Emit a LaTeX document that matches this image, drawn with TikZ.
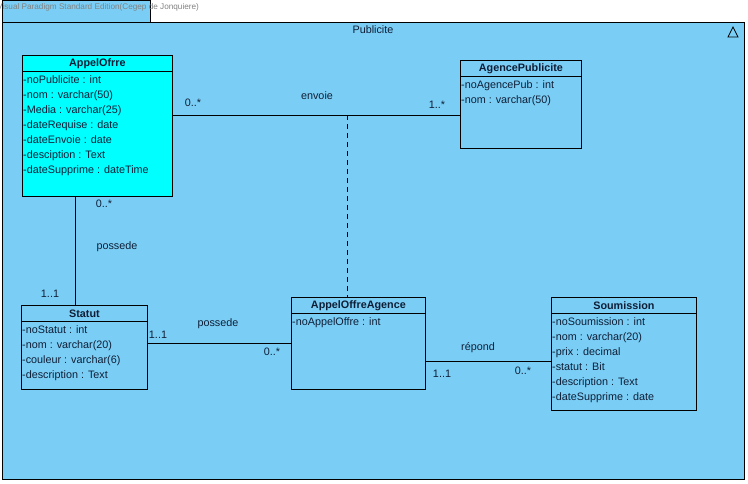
\documentclass[tikz,border=0pt]{standalone}
\usepackage{fontspec}
\setmainfont{Liberation Sans}
\usetikzlibrary{positioning}
\definecolor{pkgBlue}{RGB}{122,206,245}
\definecolor{classCyan}{RGB}{0,255,255}
\definecolor{textNavy}{RGB}{15,30,55}
\definecolor{wmGray}{RGB}{130,130,130}
\begin{document}
\begin{tikzpicture}[x=1pt, y=-1pt,
    classStyle/.style={draw, line width=0.8pt, anchor=north west, inner sep=0pt},
    headStyle/.style={draw, line width=0.8pt, anchor=north, minimum height=16pt, inner sep=0pt, font=\fontsize{10.8}{12}\selectfont\bfseries, text=textNavy},
    attrStyle/.style={anchor=north west, inner sep=1pt, yshift=-2.5pt, align=left, font=\fontsize{10.8}{15}\selectfont, text=textNavy},
    labelStyle/.style={inner sep=0pt, font=\fontsize{10.8}{12}\selectfont, text=textNavy}]
    \useasboundingbox (0,0) rectangle (748,483);

    % package
    \draw[fill=pkgBlue, line width=0.8pt] (2,0) rectangle (150,22);
    \draw[fill=pkgBlue, line width=0.8pt] (2,22) rectangle (744,479);
    \node[anchor=west, inner sep=0pt, font=\fontsize{8.2}{9}\selectfont, text=wmGray] (watermark) at (-3,7) {Visual Paradigm Standard Edition(Cegep de Jonquiere)};
    \node[labelStyle] (publicite) at (373,30) {Publicite};
    \draw[line width=0.7pt] (728,37) -- (738,37) -- (733,27) -- cycle;

    % classes
    \node[classStyle, fill=classCyan, minimum width=150pt, minimum height=141pt] (appelOfrre) at (22,55) {};
    \node[headStyle, minimum width=150pt] (appelOfrreHead) at (appelOfrre.north) {AppelOfrre};
    \node[attrStyle] (appelOfrreAttr) at (appelOfrreHead.south west) {-noPublicite : int\\-nom : varchar(50)\\-Media : varchar(25)\\-dateRequise : date\\-dateEnvoie : date\\-desciption : Text\\-dateSupprime : dateTime};

    \node[classStyle, minimum width=121pt, minimum height=88pt] (agencePub) at (460,60) {};
    \node[headStyle, minimum width=121pt] (agencePubHead) at (agencePub.north) {AgencePublicite};
    \node[attrStyle] (agencePubAttr) at (agencePubHead.south west) {-noAgencePub : int\\-nom : varchar(50)};

    \node[classStyle, minimum width=126pt, minimum height=84pt] (statut) at (21,305) {};
    \node[headStyle, minimum width=126pt] (statutHead) at (statut.north) {Statut};
    \node[attrStyle] (statutAttr) at (statutHead.south west) {-noStatut : int\\-nom : varchar(20)\\-couleur : varchar(6)\\-description : Text};

    \node[classStyle, minimum width=134pt, minimum height=92pt] (appelOffreAgence) at (291,297) {};
    \node[headStyle, minimum width=134pt] (appelOffreAgenceHead) at (appelOffreAgence.north) {AppelOffreAgence};
    \node[attrStyle] (appelOffreAgenceAttr) at (appelOffreAgenceHead.south west) {-noAppelOffre : int};

    \node[classStyle, minimum width=145pt, minimum height=113pt] (soumission) at (551,297) {};
    \node[headStyle, minimum width=145pt] (soumissionHead) at (soumission.north) {Soumission};
    \node[attrStyle] (soumissionAttr) at (soumissionHead.south west) {-noSoumission : int\\-nom : varchar(20)\\-prix : decimal\\-statut : Bit\\-description : Text\\-dateSupprime : date};

    % associations
    \coordinate (envoieMid) at (347,115);
    \draw[line width=0.8pt] (appelOfrre.east |- envoieMid) -- (agencePub.west |- envoieMid);
    \draw[line width=0.8pt, dash pattern=on 5pt off 4pt] (envoieMid) -- (appelOffreAgence.north -| envoieMid);
    \node[labelStyle] (envoie) at (317,96) {envoie};
    \node[labelStyle] (envoieL) at (193,103) {0..*};
    \node[labelStyle] (envoieR) at (437,105) {1..*};

    \coordinate (possedeTop) at ([xshift=-22pt]appelOfrre.south);
    \draw[line width=0.8pt] (possedeTop) -- (statut.north -| possedeTop);
    \node[labelStyle] (possedeA) at (117,247) {possede};
    \node[labelStyle] (possedeAT) at (104,204) {0..*};
    \node[labelStyle] (possedeAB) at (50,294) {1..1};

    \draw[line width=0.8pt] (statut.east |- appelOffreAgence.west) -- (appelOffreAgence.west);
    \node[labelStyle] (possedeB) at (218,324) {possede};
    \node[labelStyle] (possedeBL) at (158,335) {1..1};
    \node[labelStyle] (possedeBR) at (272,352) {0..*};

    \coordinate (repondL) at ([yshift=-18pt]appelOffreAgence.east);
    \draw[line width=0.8pt] (repondL) -- (soumission.west |- repondL);
    \node[labelStyle] (repond) at (478,348) {répond};
    \node[labelStyle] (repondA) at (442,374) {1..1};
    \node[labelStyle] (repondB) at (523,371) {0..*};
\end{tikzpicture}
\end{document}
